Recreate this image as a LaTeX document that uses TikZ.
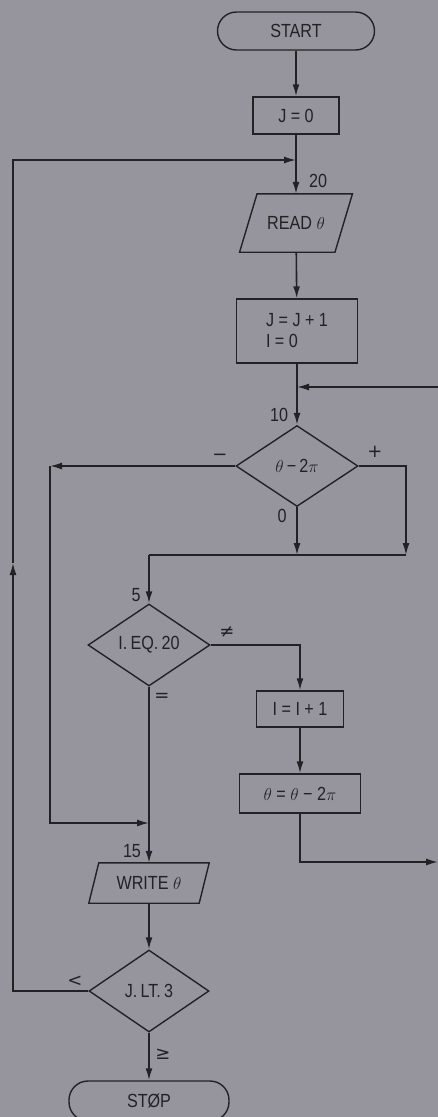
\documentclass[tikz,border=0pt]{standalone}
\usepackage{fontspec}
\setmainfont{Liberation Sans}[FakeStretch=0.85]
\newfontfamily\symf{DejaVu Sans}
\usetikzlibrary{arrows.meta,shapes.geometric}
\definecolor{bg}{RGB}{150,149,158}
\definecolor{ink}{RGB}{34,34,38}
\begin{document}
\begin{tikzpicture}[x=1pt,y=-1pt,
  font=\fontsize{19}{22}\selectfont,
  shp/.style={draw=ink, line width=1.4pt},
  box/.style={shp, rectangle, inner sep=0pt, text=ink},
  term/.style={box, rounded corners=19pt},
  dia/.style={shp, diamond, inner sep=0pt, text=ink},
  io/.style={rectangle, inner sep=0pt, text=ink},
  ln/.style={draw=ink, line width=1.6pt},
  arr/.style={ln, -{Latex[length=12pt,width=7pt]}},
  lab/.style={text=ink, inner sep=0pt},
  sym/.style={lab, font=\symf\fontsize{18}{20}\selectfont}]
\useasboundingbox (0,0) rectangle (438,1117);
\fill[bg] (0,0) rectangle (438,1117);
\clip (0,0) rectangle (438,1117);

% nodes
\node[term, minimum width=157pt, minimum height=38pt] (start) at (296,31) {START};
\node[box, minimum width=86pt, minimum height=37pt] (j0) at (296,115.5) {J = 0};
\node[io, minimum width=95pt, minimum height=58pt] (read) at (296,223) {READ $\theta$};
\draw[shp] ([xshift=-8.75pt]read.south west) -- ([xshift=-8.75pt]read.south east)
  -- ([xshift=8.75pt]read.north east) -- ([xshift=8.75pt]read.north west) -- cycle;
\node[box, minimum width=121pt, minimum height=64pt, align=left] (j1) at (297,331) {J = J + 1\\[-1pt]I = 0};
\node[dia, minimum width=122pt, minimum height=81pt] (d1) at (297,466) {$\theta$\,−\,2$\pi$};
\node[dia, minimum width=122pt, minimum height=82pt] (d2) at (149,645) {I.\,EQ.\,20};
\node[box, minimum width=87pt, minimum height=36pt] (i1) at (300,709) {I = I + 1};
\node[box, minimum width=121pt, minimum height=39pt] (th) at (300,793.5) {$\theta$ = $\theta$ − 2$\pi$};
\node[io, minimum width=110pt, minimum height=40pt] (write) at (149,883) {WRITE $\theta$};
\draw[shp] ([xshift=-5pt]write.south west) -- ([xshift=-5pt]write.south east)
  -- ([xshift=5pt]write.north east) -- ([xshift=5pt]write.north west) -- cycle;
\node[dia, minimum width=120pt, minimum height=82pt] (d3) at (149,991) {J.\,LT.\,3};
\node[term, minimum width=160pt, minimum height=40pt] (stop) at (149,1101) {STØP};

% junction points
\coordinate (m20) at (296,160);
\coordinate (m10) at (297,387);
\coordinate (rin) at (438,387);
\coordinate (ml) at (50,466);
\coordinate (m15) at (149,823);
\coordinate (rp) at (406,555);
\coordinate (m0) at (297,555);
\coordinate (m5) at (149,555);
\coordinate (rout) at (438,862);
\coordinate (lu) at (13,563);

% connectors
\draw[arr] (start) -- (j0);
\draw[arr] (j0) -- (read);
\draw[arr] (read) -- (j1);
\draw[arr] (j1) -- (d1);
\draw[arr] (rin) -- (m10);
\draw[arr] (d1.west) -- (ml);
\draw[arr] (ml) |- (m15);
\draw[arr] (d1.east) -| (rp);
\draw[arr] (d1.south) -- (m0);
\draw[ln] (rp) -- (m5);
\draw[arr] (m5) -- (d2.north);
\draw[arr] (d2.east) -| (i1.north);
\draw[arr] (d2.south) -- (write.north);
\draw[arr] (i1) -- (th);
\draw[arr] (th.south) |- (rout);
\draw[arr] (write) -- (d3);
\draw[arr] (d3.west) -| (lu);
\draw[arr] (lu) |- (m20);
\draw[arr] (d3) -- (stop);

% labels
\node[lab] (l20) at (318,181) {20};
\node[lab] (l10) at (279,415) {10};
\node[sym] (lminus) at (220,457) {−};
\node[sym] (lplus) at (375,452) {+};
\node[lab] (lzero) at (282,516) {0};
\node[lab] (l5) at (136,595) {5};
\node[sym] (lne) at (227,632) {≠};
\node[sym] (leq) at (162,697) {=};
\node[lab] (l15) at (132,851) {15};
\node[sym] (llt) at (75,981) {<};
\node[sym] (lge) at (163,1054) {≥};
\end{tikzpicture}
\end{document}
